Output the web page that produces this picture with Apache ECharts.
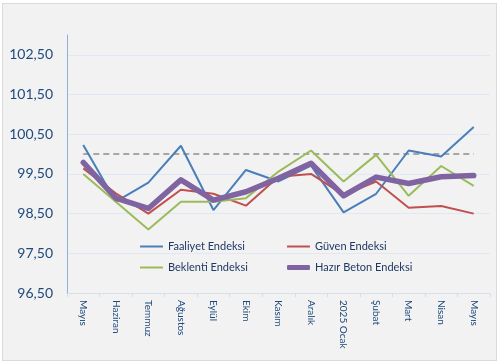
<!DOCTYPE html>
<html>
<head>
<meta charset="utf-8">
<script src="https://cdn.jsdelivr.net/npm/echarts@6/dist/echarts.min.js"></script>
<style>
  html, body { margin: 0; padding: 0; background: #ffffff; }
  #frame { position: absolute; left: 2px; top: 3px; width: 493px; height: 356px; background: #f2f2f2; border: 1px solid #dadada; }
  #chart { position: absolute; left: 0; top: 0; width: 500px; height: 362px; }
</style>
</head>
<body>
<div id="frame"></div>
<div id="chart"></div>
<script>
const categories = ['Mayıs', 'Haziran', 'Temmuz', 'Ağustos', 'Eylül', 'Ekim', 'Kasım', 'Aralık', '2025 Ocak', 'Şubat', 'Mart', 'Nisan', 'Mayıs'];
const faaliyet = [100.23, 98.80, 99.28, 100.21, 98.59, 99.60, 99.31, 99.71, 98.53, 99.00, 100.09, 99.94, 100.68];
const guven    = [99.64, 99.01, 98.50, 99.10, 99.00, 98.70, 99.43, 99.50, 98.97, 99.31, 98.65, 98.69, 98.50];
const beklenti = [99.50, 98.80, 98.10, 98.80, 98.80, 98.89, 99.56, 100.09, 99.31, 99.98, 98.95, 99.70, 99.20];
const hazirBeton = [99.79, 98.89, 98.63, 99.35, 98.84, 99.05, 99.39, 99.77, 98.95, 99.42, 99.26, 99.43, 99.46];
const baseline = [100, 100, 100, 100, 100, 100, 100, 100, 100, 100, 100, 100, 100];

const chart = echarts.init(document.getElementById('chart'), null, { renderer: 'canvas' });
const labelColor = '#1f497d';
const legendText = { color: '#1f3864', fontSize: 11, fontFamily: 'Lato' };
function legendAt(name, left, top, h) {
  return { show: true, data: [name], left: left, top: top, itemWidth: 23, itemHeight: h, icon: 'roundRect', itemGap: 0, padding: 0, textStyle: legendText, selectedMode: false };
}
chart.setOption({
  backgroundColor: 'transparent',
  animation: false,
  grid: { left: 67, right: 10, top: 35, bottom: 69, containLabel: false },
  legend: [
    legendAt('Faaliyet Endeksi', 140, 241, 2),
    legendAt('Güven Endeksi', 287, 241, 2),
    legendAt('Beklenti Endeksi', 140, 262, 2),
    legendAt('Hazır Beton Endeksi', 287, 262, 5)
  ],
  xAxis: {
    type: 'category',
    data: categories,
    boundaryGap: true,
    axisLine: { lineStyle: { color: '#d5dfec', width: 1 } },
    axisTick: { show: true, length: 4, lineStyle: { color: '#d5dfec' } },
    axisLabel: { rotate: -90, color: labelColor, fontSize: 10, fontFamily: 'Lato', margin: 7, interval: 0 }
  },
  yAxis: {
    type: 'value',
    min: 96.5,
    max: 103,
    interval: 1,
    axisLine: { show: true, lineStyle: { color: '#8eb0d9', width: 1 } },
    axisTick: { show: false },
    axisLabel: {
      color: labelColor, fontSize: 14, fontFamily: 'Lato', margin: 14, showMaxLabel: false,
      formatter: v => v.toFixed(2).replace('.', ',')
    },
    splitLine: { show: true, lineStyle: { color: ['#dfe8f4', '#dfe8f4', '#dfe8f4', '#dfe8f4', '#dfe8f4', '#dfe8f4', '#dfe8f4', 'transparent'], width: 1 } }
  },
  series: [
    { name: 'Eşik', type: 'line', data: baseline, symbol: 'none', silent: true,
      lineStyle: { color: '#a6a6a6', width: 2, type: [6, 4] }, z: 1 },
    { name: 'Faaliyet Endeksi', type: 'line', data: faaliyet, symbol: 'none', color: '#4a7ebb',
      lineStyle: { color: '#4a7ebb', width: 2 }, z: 2 },
    { name: 'Güven Endeksi', type: 'line', data: guven, symbol: 'none', color: '#c0504d',
      lineStyle: { color: '#c0504d', width: 2 }, z: 2 },
    { name: 'Beklenti Endeksi', type: 'line', data: beklenti, symbol: 'none', color: '#9bbb59',
      lineStyle: { color: '#9bbb59', width: 2 }, z: 2 },
    { name: 'Hazır Beton Endeksi', type: 'line', data: hazirBeton, symbol: 'none', color: '#8064a2',
      lineStyle: { color: '#8064a2', width: 5.5, cap: 'round', join: 'round' }, z: 3 }
  ]
});
</script>
</body>
</html>
